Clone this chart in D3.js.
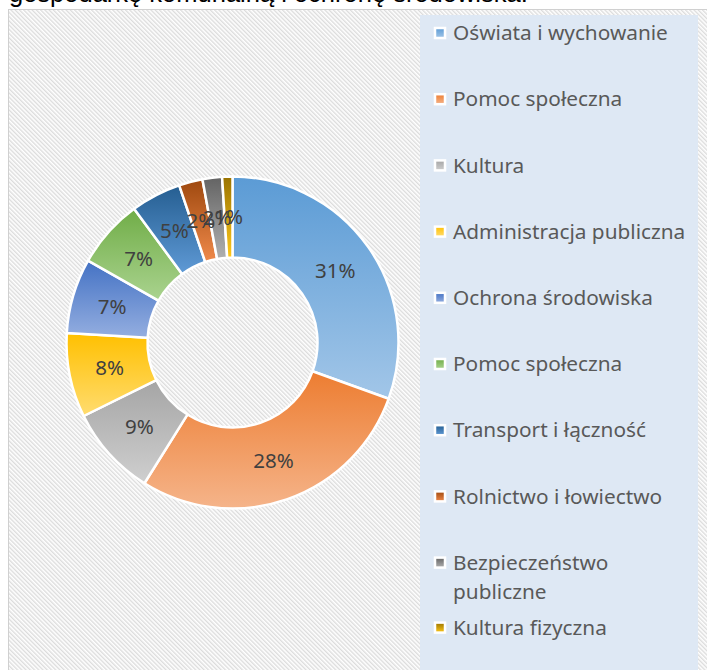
<!DOCTYPE html>
<html>
<head>
    <meta charset="UTF-8">
    <title>Wydatki</title>
    <style>
        body { margin: 0; background: #fff; }
        svg { display: block; }
    </style>
</head>
<body>
    <div id="chart"></div>
    <script src="https://cdn.jsdelivr.net/npm/d3@7/dist/d3.min.js"></script>
    <script>

    // data
    const categories = [
        "Oświata i wychowanie",
        "Pomoc społeczna",
        "Kultura",
        "Administracja publiczna",
        "Ochrona środowiska",
        "Pomoc społeczna",
        "Transport i łączność",
        "Rolnictwo i łowiectwo",
        "Bezpieczeństwo publiczne",
        "Kultura fizyczna"
    ];
    const shares = [30.5, 28.4, 8.8, 8.2, 7.3, 6.7, 4.9, 2.3, 1.9, 1.0];
    const topColors = ["#5b9bd5", "#ed7d31", "#a5a5a5", "#ffc000", "#4472c4",
                       "#70ad47", "#255e91", "#9e480e", "#636363", "#997300"];
    const bottomColors = ["#a2c6e8", "#f5b48a", "#cfcfcf", "#ffdc70", "#94aee0",
                          "#aad38f", "#5f9ad6", "#f08a4b", "#b0b0b0", "#ffc81a"];
    const titleText = "gospodarkę komunalną i ochronę środowiska.";

    const width = 707, height = 670;
    const cx = 232.5, cy = 342.5;
    const outerR = 166, innerR = 85;

    const svg = d3.select("#chart")
        .append("svg")
        .attr("width", width)
        .attr("height", height);

    const defs = svg.append("defs");

    // diagonal hatch of the chart area
    const hatch = defs.append("pattern")
        .attr("id", "hatch")
        .attr("patternUnits", "userSpaceOnUse")
        .attr("width", 3)
        .attr("height", 3)
        .attr("patternTransform", "rotate(-45)");
    hatch.append("rect")
        .attr("width", 3).attr("height", 3)
        .attr("fill", "#ffffff");
    hatch.append("rect")
        .attr("width", 1.4).attr("height", 3)
        .attr("fill", "#dcdcdc");

    // one vertical gradient per slice
    categories.forEach(function(c, i) {
        const g = defs.append("linearGradient")
            .attr("id", "grad" + i)
            .attr("x1", 0).attr("y1", 0)
            .attr("x2", 0).attr("y2", 1);
        g.append("stop").attr("offset", "0%").attr("stop-color", topColors[i]);
        g.append("stop").attr("offset", "100%").attr("stop-color", bottomColors[i]);
    });

    // title line, cut off at the top
    svg.append("text")
        .attr("x", 9)
        .attr("y", 2)
        .style("font-family", "'Liberation Sans', Arial, sans-serif")
        .style("font-size", "25.5px")
        .style("fill", "#000")
        .text(titleText);

    // chart area
    svg.append("rect")
        .attr("x", 8.5)
        .attr("y", 9.5)
        .attr("width", width)
        .attr("height", height)
        .style("fill", "url(#hatch)")
        .style("stroke", "#d0d0d0")
        .style("stroke-width", 1);

    // donut
    const pie = d3.pie().sort(null).value(d => d);
    const arc = d3.arc().innerRadius(innerR).outerRadius(outerR);
    const arcs = pie(shares);

    const donut = svg.append("g")
        .attr("transform", `translate(${cx}, ${cy})`);

    donut.selectAll("path")
        .data(arcs)
        .join("path")
        .attr("d", arc)
        .style("fill", (d, i) => `url(#grad${i})`)
        .style("stroke", "#fff")
        .style("stroke-width", 2.5)
        .style("stroke-linejoin", "round");

    donut.selectAll("text")
        .data(arcs)
        .join("text")
        .attr("transform", d => `translate(${arc.centroid(d)})`)
        .attr("dy", "0.35em")
        .style("text-anchor", "middle")
        .style("font-family", "'Noto Sans', sans-serif")
        .style("font-size", "20.5px")
        .style("fill", "#404040")
        .text(d => Math.round(d.data) + "%");

    // legend
    const legendX = 420, legendY = 15;
    svg.append("rect")
        .attr("x", legendX)
        .attr("y", legendY)
        .attr("width", 278)
        .attr("height", height)
        .style("fill", "#dee8f4");

    const legend = svg.append("g");
    const maxTextWidth = 246;
    const rowStep = 66.2;
    const lineHeight = 29;
    let rowY = 33;

    categories.forEach(function(c, i) {
        const item = legend.append("g");
        const label = item.append("text")
            .attr("x", 453)
            .style("font-family", "'Noto Sans', sans-serif")
            .style("font-size", "20.8px")
            .style("fill", "#595959");

        // wrap long labels the way the legend does
        const words = c.split(" ");
        let lines = [words[0]];
        label.text(words[0]);
        for (let k = 1; k < words.length; k++) {
            const test = lines[lines.length - 1] + " " + words[k];
            label.text(test);
            if (label.node().getComputedTextLength() > maxTextWidth) {
                lines.push(words[k]);
            } else {
                lines[lines.length - 1] = test;
            }
        }
        label.text(null);
        lines.forEach(function(l, k) {
            label.append("tspan")
                .attr("x", 453)
                .attr("y", rowY + k * lineHeight)
                .attr("dy", "0.35em")
                .text(l);
        });

        item.append("rect")
            .attr("x", 435)
            .attr("y", rowY - 5)
            .attr("width", 10)
            .attr("height", 10)
            .style("fill", `url(#grad${i})`)
            .style("stroke", "#fff")
            .style("stroke-width", 2.5);

        if (lines.length > 1) {
            rowY += (lines.length - 1) * lineHeight + 36;
        } else {
            rowY += rowStep;
        }
    });

    </script>
</body>
</html>
